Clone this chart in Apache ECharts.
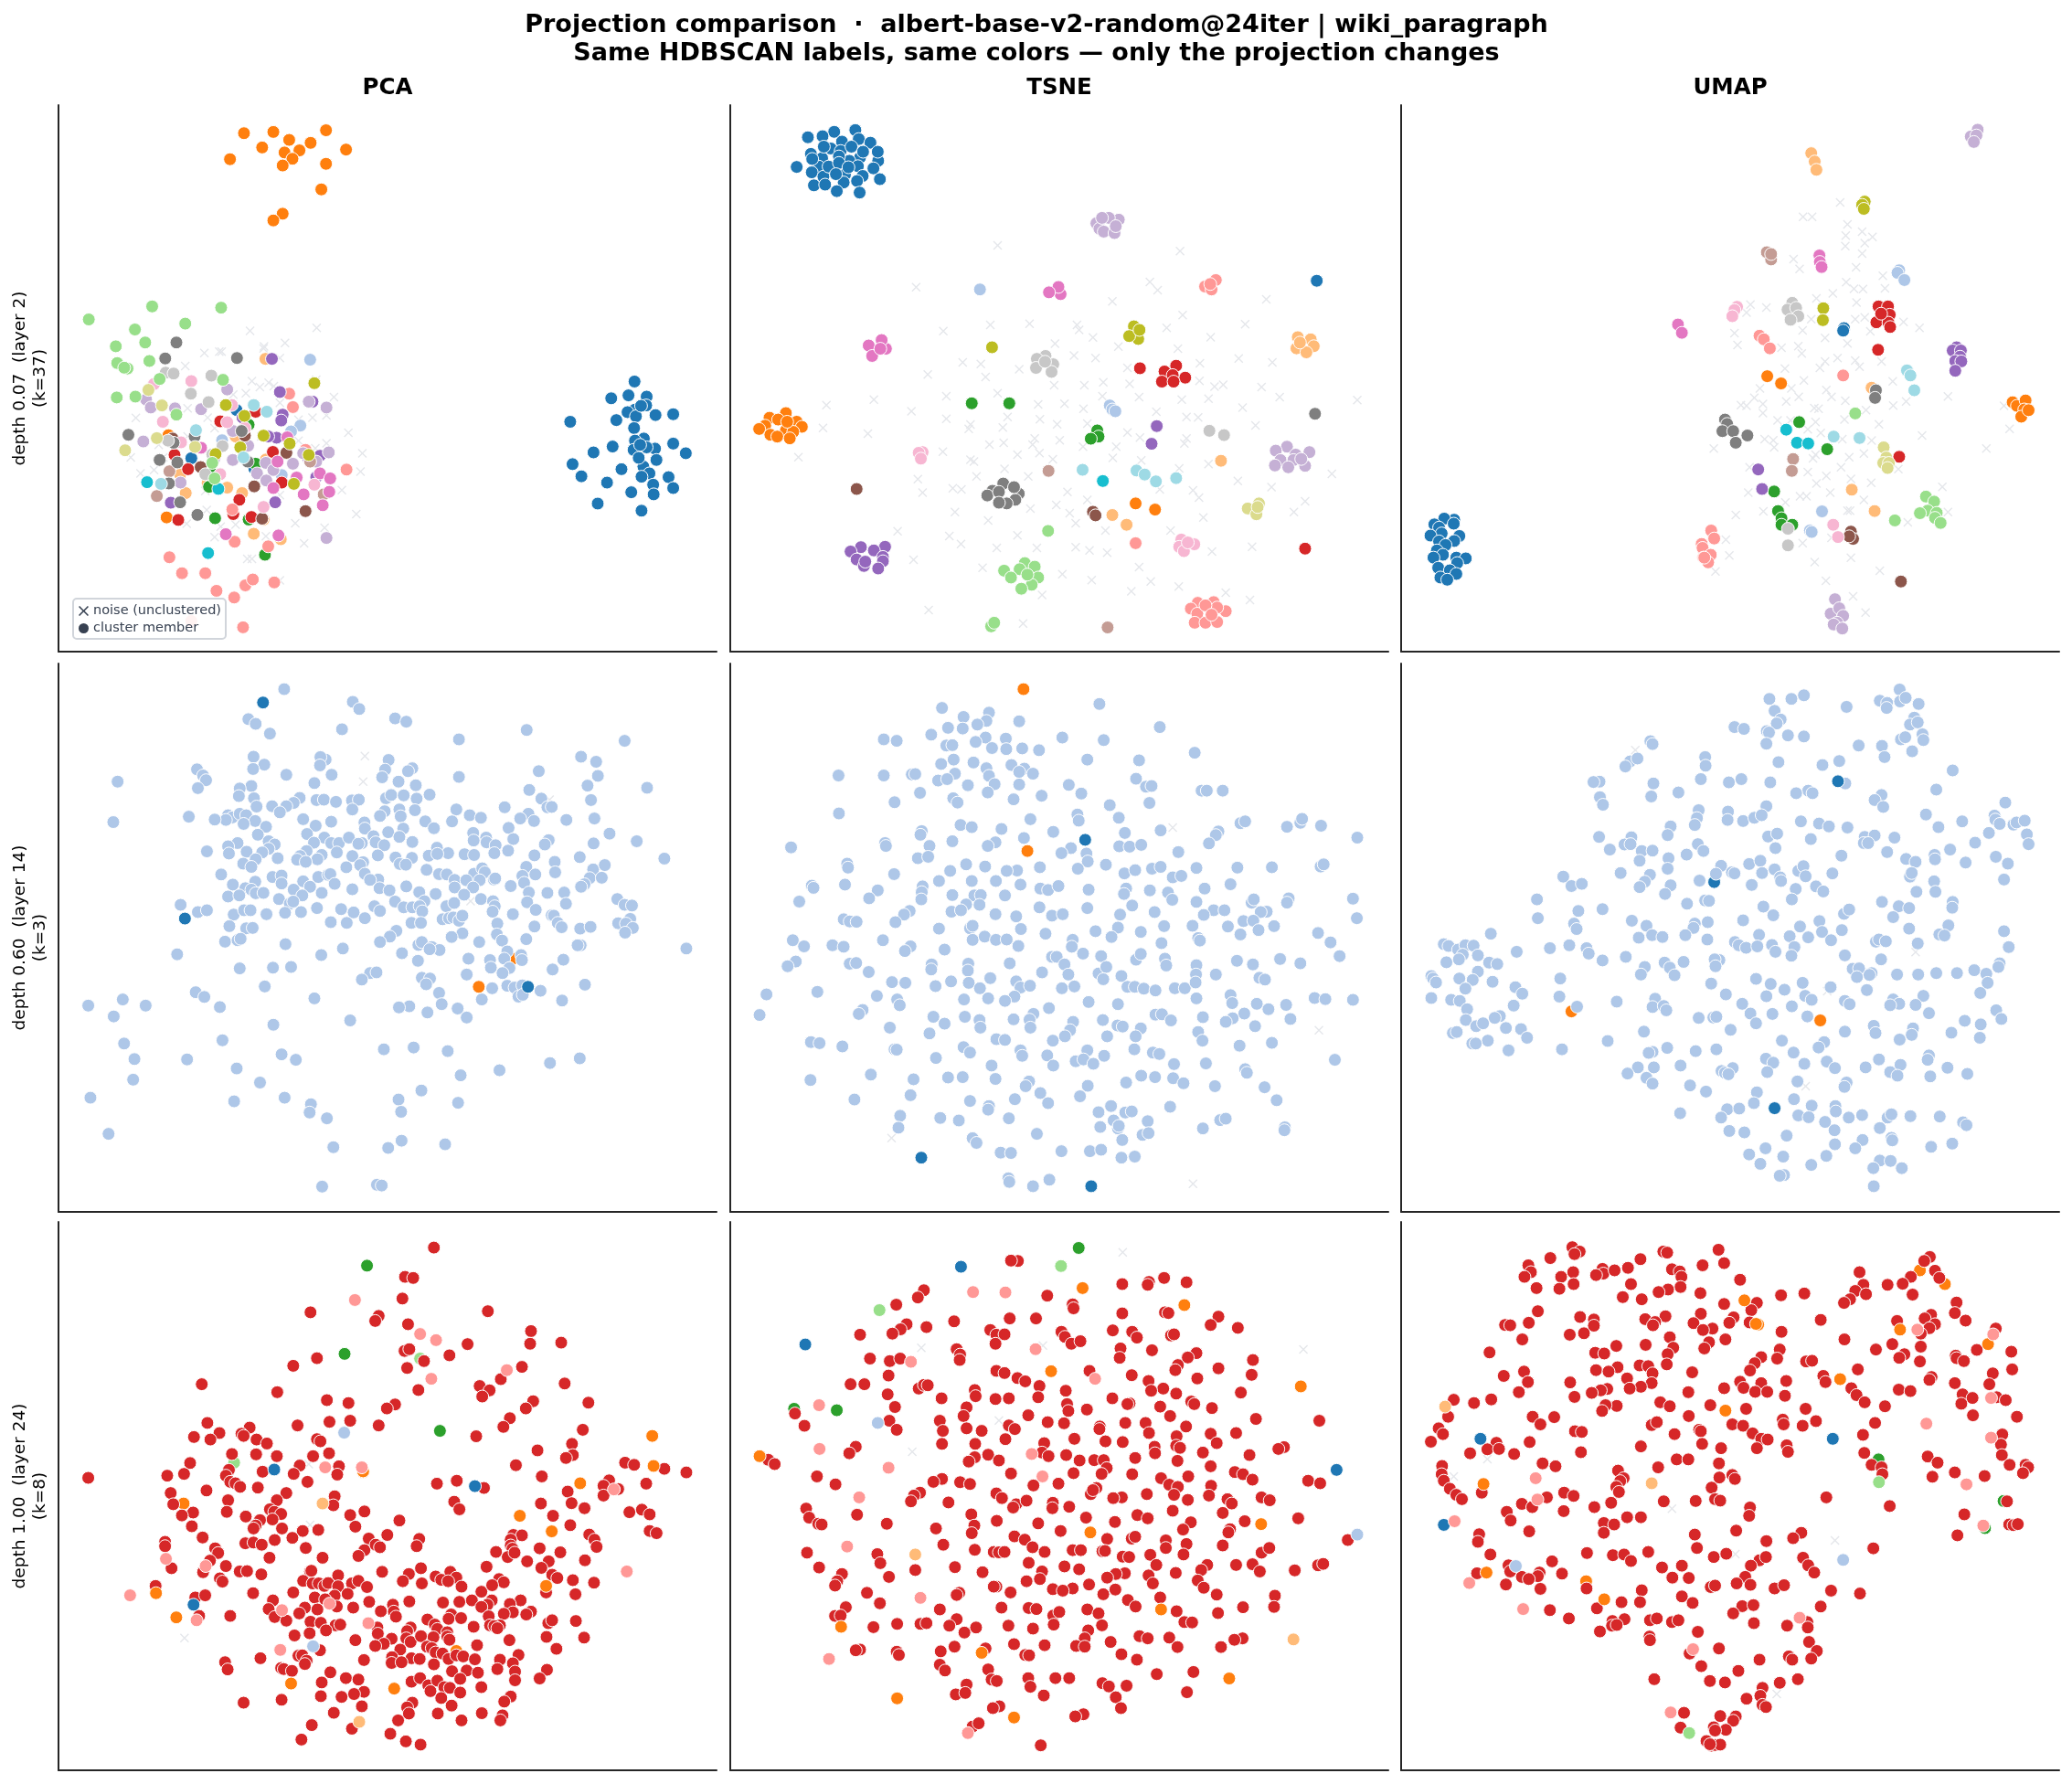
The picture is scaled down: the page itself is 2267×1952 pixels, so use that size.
<!DOCTYPE html>
<html>
<head>
<meta charset="utf-8">
<title>Projection comparison</title>
<script src="https://cdn.jsdelivr.net/npm/echarts@6/dist/echarts.min.js"></script>
<style>html,body{margin:0;padding:0;background:#fff}#chart{width:2267px;height:1952px}</style>
</head>
<body>
<div id="chart"></div>
<script>
// tab20, indexed by HDBSCAN label modulo 20
const palette = ['#1f77b4','#aec7e8','#ff7f0e','#ffbb78','#2ca02c','#98df8a','#d62728','#ff9896','#9467bd','#c5b0d5','#8c564b','#c49c94','#e377c2','#f7b6d2','#7f7f7f','#c7c7c7','#bcbd22','#dbdb8d','#17becf','#9edae5'];

const superTitle = 'Projection comparison  ·  albert-base-v2-random@24iter | wiki_paragraph\nSame HDBSCAN labels, same colors — only the projection changes';
const methods = ['PCA', 'TSNE', 'UMAP'];
const rowLabels = ['depth 0.07  (layer 2)\n(k=37)', 'depth 0.60  (layer 14)\n(k=3)', 'depth 1.00  (layer 24)\n(k=8)'];
const legendNames = ['noise (unclustered)', 'cluster member'];

// Each member group is [label, x, y, x, y, ...] in projection units; y grows downward.
const pca07Noise = [536,788,679,781,566,825,611,817,565,830,438,841,470,838,475,838,397,872,600,853,678,905,540,908,576,912,557,922,587,920,527,937,716,946,402,973,291,996,700,990,670,995,402,1040,747,1031,280,1090,777,1080,700,1056,676,1068,301,1128,773,1124,330,1120,733,1168,764,1225,633,1247,696,1258,652,1295,530,1332,540,1332,600,1383,570,1278,460,1280,400,1248,443,1215,473,1255,505,1250,440,1170,600,1180,350,1090,340,1060,460,1020,445,995,520,1080,560,1040,640,1050,640,1000,600,960,500,940];
const pca07Members = [
[0,1361,909,1311,949,1348,942,1387,945,1386,966,1362,976,1346,982,1364,992,1406,989,1444,987,1223,1005,1322,1001,1360,1020,1381,1045,1362,1050,1444,1057,1314,1064,1405,1069,1387,1066,1359,1072,1273,1078,1471,1080,1408,1096,1228,1106,1380,1112,1333,1118,1393,1128,1376,1136,1247,1135,1434,1137,1302,1150,1401,1155,1444,1163,1354,1173,1402,1178,1282,1200,1376,1217,1375,967,1373,1060,1370,1091],
[0,507,977,410,1092,545,1116],
[1,665,857,644,1014,624,1028,476,1049,604,1132],
[2,523,317,586,314,620,333,699,310,666,340,562,351,610,363,642,358,742,356,627,378,493,379,606,394,699,390,689,451,606,509,586,525,361,1037,357,1233],
[3,569,855,505,1040,570,1095,386,1131,445,1151,487,1162,519,1175,398,1175,602,1285,544,1272,565,1238],
[4,533,1012,455,1128,448,1160,461,1235,533,1238,568,1322,548,1105],
[6,472,1004,548,981,374,1084,403,1118,585,1077,500,1225,539,1232,513,1191,382,1239,604,1150],
[7,620,938,628,970,655,1072,743,1119,498,1214,363,1328,390,1366,440,1366,575,1302,503,1291,464,1408,502,1424,526,1395,542,1381,588,1388,521,1495,410,1480],
[8,583,855,600,934,670,957,606,988,603,1002,520,995,593,1043,575,1040,686,1086,660,1090,678,1137,366,1198,590,1197],
[9,313,952,323,971,375,973,431,975,487,928,307,1052,662,957,700,971,499,1027,532,1062,459,1093,499,1096,387,1150,650,1080,705,1078,678,1100,628,1105,570,1103,551,1128,586,1120,571,1145,700,1282],
[10,525,1038,370,1045,614,1079,430,1113,545,1159,655,1218,562,1236],
[11,665,1100,363,1123,336,1182,694,1178],
[12,431,1067,595,1100,616,1042,686,1128,636,1138,708,1140,586,1163,651,1178,706,1172,692,1204,484,1273,597,1276],
[13,330,915,410,908,349,1005,487,1006,497,965,388,1054,525,1020,472,1130,674,1155,565,1208],
[14,378,816,354,854,508,853,275,1036,342,1096,380,1102,362,1152,386,1197,423,1227,518,1027,417,1040,372,1055,531,1100],
[15,355,888,372,890,453,895,409,938,447,958,360,1050,477,1063,455,1083,440,1130],
[16,674,913,484,965,524,991,565,1038,621,1057,515,1066,662,1084,630,1153,462,1082],
[17,318,929,347,966,336,1044,268,1073,418,1065],
[18,315,1149,468,1165,446,1318],
[19,544,965,572,981,420,1025,345,1153,522,1090],
[5,326,730,474,733,190,761,397,771,289,785,311,816,248,825,320,860,251,865,273,878,266,876,342,903,478,905,250,947,290,945,378,988,455,1103,460,1140]
];

const tsne07Noise = [639,426,1062,442,450,542,992,527,1010,550,905,581,1262,575,1068,619,513,663,622,646,713,643,823,646,828,660,1031,654,1213,644,860,681,1133,680,772,698,919,706,1057,712,816,731,866,738,558,750,600,754,1108,752,1198,739,1276,750,477,783,689,769,611,790,940,765,770,813,840,813,884,805,945,809,1107,801,1142,817,1162,812,1251,818,639,835,520,843,352,853,242,868,882,843,967,846,1066,853,1128,850,1293,846,1473,854,794,864,733,866,838,878,439,885,1207,875,1007,886,520,906,737,907,662,901,1077,901,1104,902,234,931,576,922,572,934,651,930,777,921,847,919,338,947,940,944,1237,924,725,960,969,958,1077,960,1072,974,620,977,653,972,783,965,720,977,837,983,914,983,512,997,685,1005,736,1001,177,1012,576,1019,584,1024,767,1018,906,1014,655,1044,972,1021,1128,1031,1060,1043,454,1073,590,1065,710,1065,1414,1058,1196,1078,465,1110,535,1098,555,1101,801,1108,1015,1101,1092,1104,1274,1095,847,1130,1106,1124,775,1144,715,1154,1352,1134,540,1164,806,1167,1326,1164,617,1187,820,1195,1116,1179,407,1217,889,1215,1040,1215,527,1230,685,1228,554,1252,637,1263,730,1263,820,1261,852,1270,893,1276,1229,1260,1136,1273,444,1296,604,1318,967,1316,789,1336,857,1352,994,1356,1059,1370,949,1383,742,1393,1168,1387,1224,1407,479,1435,698,1472];
const tsne07Members = [
[0,309,107,260,112,199,127,233,124,278,139,317,132,344,142,252,158,206,173,275,165,232,185,320,183,295,192,362,192,173,209,224,208,271,180,315,207,351,213,208,224,235,236,285,230,326,234,366,243,213,260,239,258,282,252,313,248,266,276,319,280,236,153,300,153,327,167,361,167,209,187,247,208,271,198,293,210,264,229,1379,524],
[1,598,548,899,869,905,880,912,885],
[2,148,890,110,903,130,908,173,914,100,925,86,934,185,928,148,938,165,942,112,950,128,955,157,960,151,914,959,1140,1004,1157],
[3,1335,680,1365,686,1372,705,1332,711,1355,722,1340,695,1157,1022,905,1172,938,1199],
[4,579,863,666,863,870,938,873,955,855,961],
[5,702,1305,725,1315,654,1326,690,1322,733,1345,670,1345,718,1365,694,1376,708,1337,756,1216,624,1480,631,1470],
[6,969,766,1053,759,1026,775,1074,792,1045,785,1020,803,1047,803,1352,1265],
[7,1145,522,1120,540,1135,548,1132,533,1103,1415,1140,1413,1087,1431,1168,1438,1148,1428,1102,1445,1096,1470,1121,1470,1148,1468,1121,1422,1135,1448,959,1250],
[8,1008,926,996,975,322,1261,378,1260,298,1273,352,1270,312,1295,373,1288,373,1300,329,1313,362,1320,332,1301],
[9,920,355,897,350,868,365,875,380,885,388,910,392,881,350,913,373,1310,983,1284,994,1362,998,1330,1005,1295,1020,1325,1020,1282,1035,1313,1040,1352,1036,1343,1017],
[10,312,1100,860,1163,866,1173],
[11,757,1050,894,1483],
[12,785,561,780,541,758,556,380,712,340,703,370,688,348,732,367,712],
[13,465,998,456,1000,461,1016,1065,1240,1095,1253,1060,1260,1071,1272,1080,1248],
[14,1375,892,652,1085,627,1105,688,1113,615,1118,680,1130,660,1140,677,1095,642,1108,642,1138],
[15,750,732,730,740,768,755,728,765,764,776,749,748,1130,939,1164,951],
[16,955,650,965,685,944,677,968,660,626,708],
[17,1219,1154,1245,1140,1239,1170,1242,1150],
[18,883,1078],
[19,836,1047,961,1049,980,1060,1006,1079,1053,1070]
];

const umap07Noise = [1035,307,949,347,970,347,1052,368,1086,388,1048,399,1110,403,1047,428,1092,420,1086,449,927,464,941,491,1072,487,1134,510,1049,528,1067,546,1088,547,1139,545,1018,559,980,573,1073,584,827,590,864,598,818,612,1070,630,1092,625,968,630,1182,638,1219,654,948,661,790,669,1000,682,1105,664,1052,697,797,702,899,709,938,705,946,725,1029,738,1000,747,1070,745,907,767,988,765,1080,762,1131,747,951,800,1157,802,1285,844,849,822,922,822,1003,826,836,848,939,845,1015,845,1047,856,805,868,818,870,856,865,910,858,1188,858,1158,869,975,876,985,878,1095,882,856,890,890,910,920,910,978,915,1045,908,1125,921,960,935,990,945,1040,962,1225,952,1428,934,742,988,860,962,880,965,882,985,1108,966,1374,988,978,1005,972,1015,1056,1012,1090,1002,1037,1040,825,1040,960,1053,1170,1045,1003,1064,1060,1072,1107,1083,980,1085,1272,1094,822,1110,1012,1110,908,1137,942,1120,957,1120,1090,1130,1285,1164,857,1162,793,1172,1052,1160,1058,1160,1192,1192,770,1240,948,1250,1015,1235,778,1284,976,1302,1060,1290,1127,1326,746,1328,1002,1354,1065,1397,1094,1442,1415,870];
const umap07Members = [
[0,140,1185,117,1182,94,1198,139,1196,105,1207,111,1223,85,1229,152,1230,105,1245,140,1244,120,1255,100,1270,114,1282,92,1290,145,1290,167,1292,147,1305,103,1318,130,1325,145,1335,108,1345,124,1351,1044,655,1042,662],
[1,1172,495,1168,502,1184,522,993,1162,965,1215,969,1219],
[2,1435,860,1445,870,1465,855,1462,880,1455,900,1472,882,866,788,898,808],
[3,968,171,976,194,980,217,1108,820,1062,1102,1115,1161],
[4,940,915,1005,990,882,1107,891,1161,899,1181,899,1199,924,1199],
[5,1070,891,1234,1121,1253,1135,1238,1160,1220,1167,1259,1166,1255,1180,1268,1194,1162,1187],
[6,1124,595,1146,595,1150,618,1119,639,1147,640,1151,652,1130,615,1123,715,1172,1011],
[7,848,676,858,686,872,711,1042,786,736,1215,743,1237,714,1252,716,1263,735,1282,718,1290,729,1303,720,1290],
[8,1305,708,1296,717,1315,717,1313,734,1302,746,1316,747,1302,773,845,1046,854,1100],
[9,1354,106,1338,125,1351,122,1345,140,1023,1405,1013,1445,1033,1430,1042,1451,1028,1470,1020,1475,1040,1486],
[10,1176,1356,1060,1218,1065,1238,1056,1231],
[11,865,445,875,465,875,450,926,1017,923,1050],
[12,987,454,988,472,992,486,659,645,668,668],
[13,796,596,790,605,785,622,1019,1199,1030,1233],
[14,768,908,773,920,762,940,787,940,820,952,793,972,1118,827,1116,848],
[15,924,585,913,604,933,599,938,622,920,632,914,1210,914,1256],
[16,1092,305,1086,314,1090,325,996,600,995,633],
[17,1136,985,1142,1013,1135,1028,1148,1028,1145,1042],
[18,910,936,935,972,961,974],
[19,1190,772,1198,786,1207,827,1020,955,1080,959]
];

const pca60Noise = [740,271,736,342,985,673,1168,392];
const pca60Members = [
[2,1004,910,1083,832],
[1,553,86,712,121,727,141,470,169,487,182,810,167,836,176,687,197,520,209,1115,199,958,225,1342,229,482,273,649,281,637,274,795,282,636,297,507,295,481,307,351,308,787,309,850,305,840,313,1241,273,1276,287,1143,313,558,323,663,323,780,330,958,329,1280,326,365,325,372,338,167,342,623,346,818,342,477,354,450,361,353,360,858,352,1256,353,1394,359,1121,365,448,382,483,388,589,387,628,393,645,392,673,398,710,394,726,392,789,388,801,379,830,380,860,389,890,378,1149,389,1264,393,489,411,525,410,575,401,558,410,543,427,711,419,820,419,786,424,856,421,952,419,1064,413,1163,413,1173,412,423,435,433,441,418,448,450,431,392,447,332,439,465,435,775,437,823,438,983,435,1009,442,1119,431,1100,444,1272,444,942,452,880,452,1132,451,1207,448,157,454,597,446,486,451,459,459,662,453,626,464,511,467,739,455,740,472,829,472,900,471,1073,470,492,489,606,487,646,497,794,482,760,493,991,484,1307,486,820,495,1021,497,1084,501,445,512,423,521,517,507,531,516,622,511,662,512,680,512,703,497,733,512,725,514,765,510,785,518,850,509,992,505,1022,510,1043,518,1166,504,1157,516,1270,513,1370,507,517,528,374,535,425,541,466,536,502,538,605,534,640,545,675,538,590,548,907,525,933,540,1040,540,1072,533,971,543,993,545,888,547,908,542,1133,546,1238,551,1434,555,538,554,487,557,583,558,630,557,603,564,711,548,770,546,811,552,849,553,458,569,477,578,736,565,729,573,821,570,835,572,1180,564,697,579,883,586,1114,578,1269,585,1296,573,407,599,526,606,547,602,632,606,655,600,660,598,740,597,771,613,752,614,912,598,930,599,993,597,1012,582,1018,593,1105,603,1135,599,1181,593,434,627,486,619,597,618,547,624,613,633,670,625,836,632,948,614,975,615,1006,615,1039,613,1042,610,1078,631,1109,622,1261,609,1289,608,1249,626,1241,633,463,637,477,641,487,651,505,650,575,641,640,650,711,640,774,637,797,643,948,635,991,635,866,648,904,653,970,655,1163,650,1202,649,1120,649,423,660,449,657,595,657,541,667,566,680,574,674,878,673,1009,667,1037,673,1116,676,1206,680,810,674,1325,667,1342,683,1359,685,313,683,353,703,374,698,436,710,460,698,475,698,512,709,555,705,592,703,629,692,685,695,714,704,762,687,775,700,830,690,850,690,867,687,873,701,929,687,947,678,1041,687,1036,702,1136,697,1083,709,740,720,661,731,698,733,848,733,870,733,920,723,935,720,945,718,958,727,966,713,1173,712,1178,713,1187,733,1355,722,1047,735,1133,743,1196,745,1239,749,1263,744,1327,734,1345,735,1361,747,1343,760,426,742,465,748,480,747,813,755,798,771,966,762,941,772,1046,765,416,785,445,781,452,777,556,792,775,786,864,794,872,786,895,800,1005,786,1058,782,1114,778,1240,795,1233,795,689,804,1485,804,305,820,639,822,826,817,913,808,890,806,1070,812,1102,822,980,832,863,838,1030,836,1063,832,1104,836,1200,835,450,859,527,857,569,855,1032,857,1075,858,1059,872,1175,862,752,872,767,870,733,890,976,876,872,885,891,887,882,903,508,909,1035,914,1070,907,1087,912,1105,906,1147,921,1250,904,348,925,368,938,912,927,1096,937,1106,932,179,945,623,942,99,962,232,962,404,966,843,964,819,967,918,958,1011,945,1197,948,955,970,158,992,885,981,976,995,706,1003,528,1015,410,1058,182,1067,784,1083,853,1078,932,1088,206,1110,328,1111,547,1097,580,1112,1238,1108,1169,1121,443,1136,1052,1141,962,1155,203,1167,497,1175,871,1197,104,1217,437,1227,554,1217,818,1222,956,1231,615,1235,612,1258,824,1256,652,1274,146,1317,825,1336,794,1356,667,1354,926,1346,641,1463,768,1458,779,1460],
[0,504,123,323,721,1118,910]
];

const tsne60Noise = [1045,469,1384,1030,393,1329,1092,1455];
const tsne60Members = [
[2,699,86,708,534],
[1,510,138,619,151,875,127,560,163,689,175,613,174,592,184,1015,191,524,193,558,195,485,212,375,225,405,229,611,220,658,223,789,220,885,227,520,242,534,241,588,232,626,249,659,252,696,250,735,255,1096,262,537,281,847,281,967,283,508,293,583,289,671,296,613,305,701,306,689,315,721,320,270,325,375,325,440,322,448,321,540,320,619,326,501,339,522,335,570,352,632,349,689,350,960,334,983,356,996,354,804,351,1112,367,1124,367,1161,367,616,372,459,373,833,375,741,381,536,388,546,400,400,399,676,391,899,407,991,401,271,430,824,433,827,450,920,442,715,446,553,462,579,468,648,473,463,479,460,489,768,481,934,484,1017,477,1202,457,1213,452,1151,480,1145,490,1310,467,1341,456,1345,445,1389,464,1473,497,700,498,634,510,378,512,380,520,534,507,481,520,616,520,160,524,921,521,945,522,972,517,1129,513,809,526,787,540,845,541,1058,537,454,554,478,550,290,569,292,580,566,571,848,563,890,572,610,577,684,588,660,589,737,579,825,583,399,598,529,589,933,596,958,587,997,583,1017,578,1100,581,1195,580,1275,579,1388,577,1395,571,503,617,579,617,635,617,1045,607,1065,603,692,627,285,627,208,630,212,636,465,632,463,648,738,638,756,642,780,631,850,641,937,638,932,653,992,643,1034,649,1119,638,1179,626,361,643,341,665,179,674,462,668,534,656,585,657,600,656,656,657,1044,669,1100,675,1228,677,1233,668,1314,665,1310,677,1463,666,435,700,422,710,566,682,597,683,532,702,554,698,736,690,847,692,951,685,1140,698,1165,698,1263,702,1249,703,402,731,282,723,296,729,312,730,634,709,682,715,765,713,790,709,923,710,1003,703,1117,711,1472,720,1209,728,1232,727,503,749,575,748,581,741,693,750,918,746,866,756,1025,742,1091,741,1173,743,1280,742,1244,753,750,763,903,772,971,758,1202,765,1382,761,164,781,190,798,256,795,282,799,373,781,437,798,424,811,581,780,609,771,635,780,660,779,687,797,813,780,811,799,1019,789,1104,775,1108,782,1411,787,516,807,837,818,171,840,152,853,296,846,311,844,340,869,486,848,485,862,571,846,570,865,667,845,765,827,776,827,794,848,879,825,960,835,971,819,1027,832,1030,851,1194,838,1231,848,1294,833,1341,845,1432,825,1100,850,742,870,803,876,873,873,891,855,884,889,926,880,1099,876,1145,876,1246,885,1259,890,394,897,425,899,531,895,622,886,682,895,572,899,495,908,598,914,692,912,714,907,788,914,817,909,940,910,957,910,978,915,1005,920,1050,914,1073,914,1098,898,103,931,221,924,359,935,617,942,561,945,678,937,656,949,406,945,412,961,850,952,918,958,1100,942,1179,933,1183,955,1240,957,1308,960,1374,941,1399,944,1463,946,326,974,317,985,1267,972,722,985,758,969,1005,987,1020,986,1211,984,87,988,490,993,563,993,676,1000,713,1001,814,1007,883,1002,1041,1003,1115,994,1184,997,1168,1007,1318,999,516,1012,597,1002,599,1023,715,1023,807,1030,917,1017,929,1020,971,1025,1236,1019,389,1023,481,1039,1104,1035,795,1047,893,1047,959,1047,206,1063,226,1066,636,1055,656,1057,767,1059,1114,1059,279,1075,1200,1073,1275,1065,400,1083,405,1084,560,1077,575,1092,692,1086,696,1101,847,1086,956,1083,999,1092,1014,1096,496,1107,754,1100,820,1116,838,1111,861,1123,886,1101,625,1128,768,1128,1048,1124,1122,1122,1421,1112,205,1168,345,1153,444,1166,524,1161,558,1160,634,1165,972,1156,1004,1160,1046,1163,1070,1177,1213,1138,1217,1148,712,1172,704,1185,848,1184,937,1175,1143,1185,1258,1188,307,1222,437,1210,738,1204,756,1232,830,1213,575,1226,679,1221,1286,1224,619,1240,617,1250,873,1257,902,1240,935,1258,950,1255,1039,1242,413,1267,506,1273,549,1280,665,1274,908,1280,987,1282,1155,1279,1168,1275,409,1300,877,1298,918,1302,920,1295,1115,1302,1305,1299,1304,1307,730,1317,975,1320,989,1315,928,1334,581,1329,590,1342,646,1369,670,1370,787,1365,853,1365,879,1361,926,1383,957,1380,664,1440,666,1450,721,1462,759,1444],
[0,842,503,462,1383,856,1462]
];

const umap60Noise = [560,255,1210,814,1005,922,955,1185];
const umap60Members = [
[0,743,620],
[2,412,978,989,1003],
[1,1173,87,871,113,922,113,951,103,1127,118,1144,124,1143,138,1174,120,1187,110,1217,127,1050,135,883,146,897,170,888,181,1207,165,1197,184,1215,178,790,191,812,196,865,202,870,206,914,214,951,217,1226,211,1228,227,1176,225,1186,219,595,230,600,238,864,237,1078,242,1132,243,722,274,1138,274,1202,258,892,288,548,286,565,278,537,300,723,298,994,296,1033,285,1296,311,477,342,463,343,602,347,712,335,777,344,806,335,873,344,1047,347,961,367,971,374,933,374,1258,364,597,383,660,372,478,385,485,406,1131,379,1115,393,1135,412,1418,400,707,421,775,425,864,410,1234,433,703,443,774,448,810,451,836,442,853,435,698,462,1393,436,1395,447,1405,459,1437,461,1444,455,1463,450,944,452,986,458,1009,466,1052,469,1263,468,1318,452,642,466,635,490,476,495,551,496,1092,495,1115,491,1161,497,1380,484,1468,488,868,494,889,486,967,501,535,516,549,515,1090,512,1100,512,501,530,575,534,600,533,705,515,718,534,885,526,1472,515,1348,511,1290,530,1144,537,1038,547,637,554,570,561,679,544,1188,556,1210,564,1254,545,1255,557,1326,566,1396,550,1424,569,759,575,635,583,824,570,850,561,883,585,938,589,950,576,526,595,594,600,747,597,784,593,790,596,854,595,955,604,1017,596,1197,605,1201,595,1253,618,1415,613,582,619,570,634,709,616,642,629,830,628,896,607,898,617,979,632,996,646,932,639,1212,647,1256,647,629,653,923,668,393,605,412,631,436,625,332,668,680,680,722,671,731,672,1132,675,1171,687,1195,692,1296,675,1295,691,428,700,484,695,857,688,334,720,552,727,880,712,810,726,1044,708,1056,696,1158,717,418,735,586,741,698,735,695,747,728,731,942,743,987,728,993,758,424,750,568,774,599,767,623,772,676,767,727,779,847,766,918,770,961,773,1014,781,1039,753,1195,749,1286,740,1265,765,1277,768,1415,756,225,763,116,792,127,797,149,807,166,795,185,796,285,813,362,803,407,795,791,786,800,795,817,802,843,798,877,794,929,800,885,813,1118,785,1125,779,1141,784,1215,790,1426,800,447,803,452,818,160,821,195,823,122,842,151,834,221,843,240,847,484,837,538,827,1046,823,922,824,1130,834,755,836,744,834,746,853,628,843,672,841,640,857,582,855,1405,845,1402,855,1064,860,1079,859,1108,872,1103,877,1346,864,195,868,573,876,651,878,1074,883,1167,876,1216,876,1258,872,1306,872,1374,874,87,880,91,887,98,898,152,887,183,891,386,887,840,888,229,896,736,901,948,899,1377,899,282,911,166,915,874,902,906,918,1013,911,1097,919,298,929,770,931,864,936,954,935,969,946,1228,935,1360,927,133,946,87,941,153,949,384,937,1046,949,1057,958,278,962,606,943,517,951,808,957,1158,945,1172,957,1151,961,1210,960,170,972,600,966,626,963,632,975,425,965,923,964,1241,983,1397,975,246,991,234,996,167,1002,707,996,741,995,748,993,878,985,827,984,959,992,1409,999,191,1019,207,1011,840,1011,1324,1004,1361,1014,260,1024,295,1027,781,1029,580,1034,1046,1034,1113,1018,1117,1038,1204,1025,1201,1043,1293,1037,137,1038,146,1035,309,1051,1173,1056,1359,1051,218,1059,182,1067,190,1067,496,1060,900,1059,998,1063,985,1078,266,1086,390,1083,634,1079,748,1083,600,1090,591,1093,700,1088,927,1092,863,1109,880,1120,952,1123,1004,1117,1023,1135,1125,1111,1241,1100,1238,1112,665,1128,603,1133,566,1133,786,1135,760,1143,768,1148,776,1152,1094,1133,1175,1126,1284,1134,542,1150,586,1162,600,1178,866,1146,1151,1146,1168,1156,1244,1158,1330,1151,936,1172,1050,1175,1045,1187,687,1183,724,1200,842,1202,928,1221,835,1232,664,1260,773,1249,801,1247,969,1239,1024,1240,1025,1255,759,1272,938,1266,962,1271,1055,1272,1086,1265,1000,1284,1145,1272,1154,1263,1198,1268,1266,1269,1320,1285,1328,1293,778,1309,813,1313,911,1322,1022,1307,1127,1301,1154,1328,1156,1335,1087,1334,1023,1346,862,1357,1070,1357,1246,1353,1295,1344,824,1374,903,1380,1003,1378,850,1400,968,1403,1127,1391,1152,1392,1112,1412,1178,1412,905,1431,895,1433,1113,1462],
[0,1030,341,883,1246]
];

const pca100Noise = [322,1169,613,856,610,688];
const pca100Members = [
[5,437,684,868,396],
[2,320,797,736,710,952,1205],
[6,900,89,833,170,852,173,827,230,1025,265,614,268,772,278,764,292,840,301,1125,320,1123,355,1195,352,978,356,936,387,832,375,843,370,877,403,838,422,574,416,629,395,1104,419,1055,453,362,467,1006,472,1029,484,1012,501,864,483,1203,465,537,489,652,511,702,519,810,523,791,534,1130,514,1113,534,1258,518,375,574,473,587,584,581,658,571,706,568,772,581,1076,561,1061,585,1245,593,403,602,344,613,382,620,454,604,459,610,489,620,513,631,629,619,637,625,998,611,1220,632,1140,650,432,660,488,661,536,666,620,666,657,658,1222,663,1206,671,335,685,589,692,680,694,1090,691,1343,684,1364,690,1434,701,1485,711,99,726,282,720,321,715,425,704,418,720,503,709,575,715,676,717,1150,722,1306,733,428,737,440,741,451,751,492,753,607,737,907,742,953,734,1016,754,1293,748,1327,757,1392,742,1210,764,290,768,373,761,558,768,670,777,1293,775,296,799,423,788,536,788,667,802,947,792,1148,797,1219,796,420,820,342,822,520,813,530,820,546,826,706,829,739,819,959,813,1249,810,1353,821,1382,814,1400,827,316,830,464,833,526,841,497,843,820,844,1176,831,339,860,487,858,482,866,548,866,596,873,632,870,718,861,1216,857,277,903,364,891,1084,884,1104,885,1078,897,792,884,749,894,866,895,531,898,572,892,1260,883,1400,873,1416,879,1272,897,1277,917,277,915,463,907,482,905,501,911,603,920,739,926,725,942,765,911,775,918,860,915,1078,913,1082,922,1145,921,393,921,400,934,642,947,519,947,1044,931,1071,945,1087,933,1193,932,381,955,418,970,1116,957,1166,957,1250,954,292,976,450,985,467,984,365,987,500,993,613,985,616,983,780,986,870,976,1022,972,1149,975,938,986,842,992,678,996,904,999,917,1008,952,1002,1174,994,1186,1003,404,1004,410,1013,597,1011,619,1018,633,1018,646,1025,655,1017,678,1026,710,1018,725,1011,745,1028,828,1012,872,1018,933,1012,1051,1006,1062,1015,964,1027,1222,1009,1271,1016,255,1025,1010,1041,1035,1023,574,1043,700,1047,670,1052,1228,1048,1160,1043,481,1045,347,1057,370,1051,624,1057,648,1062,527,1065,750,1069,843,1068,921,1071,959,1069,988,1065,1034,1065,1024,1077,1010,1083,1101,1065,1076,1075,675,1082,601,1085,630,1090,517,1089,713,1085,805,1077,807,1096,812,1110,777,1095,588,1101,1125,1096,1083,1098,1062,1102,1114,1104,940,1104,934,1116,963,1114,1027,1109,531,1111,558,1121,428,1108,356,1108,885,1118,614,1124,638,1127,672,1134,683,1132,650,1148,1030,1134,1053,1134,1040,1136,1047,1142,992,1138,1165,1128,1174,1120,1229,1122,769,1140,770,1157,846,1140,838,1150,902,1132,908,1144,931,1153,899,1167,577,1162,612,1156,1161,1166,1248,1168,1075,1175,718,1175,802,1171,836,1170,846,1180,870,1164,931,1165,936,1174,784,1185,764,1191,1000,1189,884,1193,1184,1199,636,1203,822,1201,895,1197,904,1209,498,1225,586,1218,595,1217,605,1232,738,1230,803,1222,848,1225,867,1227,920,1212,934,1227,952,1217,968,1220,995,1228,1096,1216,1053,1229,1083,1239,601,1241,802,1238,825,1236,900,1242,416,1236,422,1256,546,1252,552,1255,571,1260,1047,1255,1088,1262,1162,1257,660,1264,942,1261,976,1259,1002,1265,696,1280,725,1284,640,1292,1145,1281,1088,1286,848,1290,868,1280,887,1300,908,1287,961,1282,1010,1305,924,1305,937,1307,892,1316,738,1318,715,1324,638,1330,686,1332,961,1320,917,1335,459,1348,547,1340,1078,1331,1063,1345,733,1358,850,1348,941,1356,668,1376,838,1361,842,1378,909,1378,1011,1377,1059,1383,1054,1397,964,1397,817,1397,617,1410,710,1420,799,1434,593,1450,835,1455,869,1464],
[0,530,703,343,1077,995,749],
[1,692,601,620,1192],
[2,736,708,1406,610,1409,693,1239,741,1099,831,1173,874,1160,1025,256,1045,303,1112,569,1295,808,1309],
[3,642,797,727,1401],
[7,717,234,868,328,905,345,894,452,1069,428,648,697,733,697,1317,758,279,950,371,970,196,1051,658,1074,548,1092,350,1120,748,1128,544,1202,1347,985],
[4,745,139,693,383,914,596]
];

const tsne100Noise = [929,102,462,366,744,360,1348,371,642,567,441,654];
const tsne100Members = [
[4,167,535],
[6,686,126,670,125,468,207,454,227,404,247,754,222,928,190,990,184,987,192,1025,173,1077,185,813,246,815,257,928,271,1027,268,1035,270,1151,280,1133,303,1196,311,428,301,414,315,395,327,474,309,538,293,320,330,667,285,728,285,622,317,636,330,655,329,787,322,795,336,810,355,831,348,906,318,951,322,962,338,1041,332,1048,329,634,355,924,368,997,373,1100,381,1080,393,544,370,552,385,551,400,343,396,389,403,413,396,922,394,1231,400,1057,414,1051,428,636,430,655,436,852,430,950,442,1151,423,1228,441,386,443,685,450,703,459,1102,451,989,458,298,467,330,467,456,479,468,469,477,470,736,472,1023,479,995,485,586,483,797,485,588,500,384,495,1203,490,1053,493,509,506,634,508,665,506,733,503,905,506,945,520,940,522,401,530,567,531,800,522,803,541,846,537,1088,515,1095,522,1016,529,1136,533,169,548,560,555,710,553,1039,555,1238,563,505,568,388,568,755,572,793,575,665,581,935,574,982,574,876,584,875,591,1076,584,1385,568,191,582,567,589,602,596,512,596,679,591,405,593,990,602,1133,604,1192,602,1054,611,817,618,657,619,510,632,587,632,747,630,889,625,929,627,1147,630,1303,641,1290,646,1003,640,1053,637,1062,643,310,640,295,658,742,656,757,666,586,669,617,662,1004,658,1115,656,1223,663,107,676,122,688,572,681,642,678,798,663,829,678,863,677,885,677,892,699,958,671,1056,679,1133,694,220,722,670,714,815,713,880,715,951,716,1018,727,1081,722,1189,710,1208,716,1230,731,263,744,510,729,490,737,552,738,575,743,722,747,780,742,1037,745,1057,751,1134,748,1359,734,1387,741,459,767,445,775,438,791,636,769,649,782,855,771,868,754,860,760,985,771,927,780,907,782,1048,773,1129,775,525,794,682,799,706,789,767,795,766,810,675,808,805,806,1080,787,1172,785,1182,797,1251,780,1270,788,195,811,202,836,223,853,231,855,313,828,578,827,637,845,844,836,963,829,987,838,1045,817,1161,823,382,853,585,858,733,852,911,848,1087,849,1212,846,1336,838,496,866,579,879,785,873,1069,869,1178,868,1174,877,678,888,702,897,893,895,950,894,958,889,1029,899,1451,898,513,911,720,918,586,925,1029,920,1077,909,1161,913,197,933,360,937,630,931,642,932,655,931,748,931,813,926,832,926,882,929,888,928,1070,938,929,944,944,945,993,939,1251,933,1269,920,367,962,711,961,1125,967,1007,967,1192,967,1230,965,1382,968,1394,964,225,974,540,973,448,981,604,987,794,971,828,979,742,985,1111,981,1247,985,1328,982,278,992,267,1012,262,1024,387,1000,934,990,913,992,893,1002,989,996,1052,989,737,1006,706,1012,999,1018,1103,1010,851,1021,912,1035,636,1027,630,1027,767,1034,813,1032,790,1038,1117,1030,336,1044,550,1044,544,1050,669,1043,884,1048,1147,1049,1282,1052,1016,1057,941,1064,366,1073,287,1084,648,1085,711,1086,729,1089,959,1082,1208,1084,1280,1083,505,1090,847,1090,1054,1095,262,1108,275,1107,768,1107,782,1097,873,1101,1150,1100,544,1117,406,1130,460,1130,474,1128,527,1135,589,1140,664,1135,721,1143,769,1132,881,1134,1072,1125,1090,1126,351,1139,562,1154,849,1148,841,1170,968,1164,987,1170,1037,1168,1207,1170,1188,1174,539,1193,611,1198,677,1186,748,1189,821,1191,841,1193,901,1180,1056,1194,1157,1194,320,1201,310,1203,507,1206,405,1207,410,1216,703,1216,712,1217,926,1214,962,1229,505,1243,517,1259,617,1256,625,1284,637,1288,1008,1269,1093,1263,710,1280,773,1280,805,1280,882,1294,897,1303,938,1301,567,1298,715,1304,1078,1319,542,1325,564,1321,746,1328,913,1333,643,1358,628,1363,925,1363,838,1380,819,1386,581,1414,595,1405,739,1466],
[0,554,142,193,357,1425,704],
[1,361,574,1473,883],
[2,836,201,1072,248,763,431,1342,473,1250,854,854,877,1018,1090,276,1138,602,1210,1176,1281,406,1336,677,1389,87,666],
[3,448,938,1325,1173],
[5,786,140,365,262],
[7,582,212,657,213,727,370,438,405,865,452,225,525,226,646,718,660,386,698,743,722,318,780,290,916,460,1058,248,1227,570,1432],
[4,827,90,266,539]
];

const umap100Noise = [217,674,139,722,645,811,1023,899,792,937,888,1324];
const umap100Members = [
[4,1124,675,1414,790,1371,865],
[2,845,302,446,1012,1220,152,1278,190],
[6,414,88,431,100,419,107,753,95,625,100,634,103,363,118,572,121,312,138,766,132,716,138,1243,115,1230,126,1080,157,318,157,303,170,388,170,416,157,645,149,663,155,667,170,484,148,486,161,469,165,512,152,543,145,1255,153,1199,170,1265,173,1145,192,1180,189,1089,192,550,190,417,190,331,201,384,203,803,178,665,198,636,205,614,212,711,215,1070,209,1095,218,1058,232,1044,242,531,226,575,232,898,221,952,216,1203,219,842,242,766,245,1305,241,829,262,334,265,712,272,432,281,464,288,1301,270,583,287,630,279,606,295,695,298,788,282,778,297,825,296,990,289,1246,275,1231,285,1255,301,1326,291,258,303,270,304,313,297,464,305,601,304,739,313,717,317,1167,292,1242,312,1222,327,899,322,408,330,441,326,640,337,298,343,769,343,731,351,1045,343,1396,313,1156,356,1222,363,648,366,720,368,584,358,516,361,895,371,1118,371,1352,372,1432,377,222,379,467,380,488,382,635,384,852,392,889,396,956,404,970,402,1184,384,1172,394,1303,388,1305,395,1322,403,1220,404,837,409,633,412,570,415,590,417,519,420,469,428,498,432,302,432,826,429,1076,426,1434,426,600,437,692,434,996,444,1001,461,1247,447,1242,455,1389,437,255,444,311,461,409,462,541,451,598,464,803,460,852,464,910,458,1301,464,1381,467,1061,478,811,477,838,488,866,488,573,474,547,479,495,480,480,484,459,491,290,489,766,478,683,489,1171,482,1198,486,1073,497,907,499,419,502,226,509,186,519,139,510,1319,495,1342,505,1398,503,1419,511,618,517,640,528,517,527,491,525,483,541,734,525,817,535,955,535,1092,517,1139,528,1316,521,126,557,322,557,372,558,684,555,1343,553,1445,557,340,578,598,580,610,572,785,578,810,582,902,565,904,578,948,582,979,569,1116,574,104,589,114,605,420,597,436,599,651,605,708,593,712,597,832,603,1088,607,86,626,238,629,315,627,852,618,867,620,1411,606,715,632,1408,634,217,647,244,646,177,658,279,660,434,655,573,639,759,644,842,644,911,636,914,654,1091,657,1410,663,656,675,683,675,1238,667,1261,684,345,686,375,694,754,686,1108,690,1131,697,1133,716,1428,690,1465,690,1471,697,1459,713,112,693,111,716,613,697,520,706,533,727,525,735,785,718,791,729,755,725,1301,711,1249,723,1370,721,116,734,516,751,737,753,130,756,522,765,145,773,158,785,204,767,395,767,417,776,355,780,504,795,626,791,700,790,745,785,757,789,1003,780,1150,804,262,820,297,798,321,807,394,818,465,807,826,808,824,831,1422,791,271,844,541,835,573,835,1323,827,487,851,511,855,1427,855,1437,857,1447,854,314,874,487,878,794,872,698,883,1307,885,198,882,195,903,864,901,945,878,926,893,703,920,1112,921,224,938,448,934,508,940,534,938,550,956,590,931,742,945,771,936,848,954,863,945,949,947,367,957,266,968,270,985,622,974,668,969,828,969,961,968,975,988,193,990,338,988,334,998,390,991,646,1002,684,1003,815,1000,297,1000,313,1006,260,1021,340,1033,447,1032,575,1037,735,1028,745,1024,795,1018,827,1022,883,1032,905,1023,1014,1038,1081,1046,668,1054,571,1070,528,1070,693,1072,808,1081,834,1078,990,1082,471,1087,362,1092,406,1115,787,1101,835,1128,959,1125,594,1120,610,1115,645,1125,660,1120,535,1117,507,1122,506,1135,517,1133,912,1135,960,1140,478,1151,705,1152,593,1165,594,1175,963,1180,981,1205,754,1198,686,1212,916,1220,924,1229,968,1226,848,1229,713,1247,799,1260,604,1283,733,1288,768,1292,895,1293,937,1283,855,1307,850,1329,818,1337,855,1354,863,1360,673,1376,757,1385,793,1386,787,1398,665,1417,742,1416,770,1423,745,1425,725,1454,737,1467,745,1465,757,1464,733,1463],
[0,201,618,1018,618,116,856],
[1,283,970,1042,953],
[2,813,235,840,300,1174,316,1378,356,1035,453,769,540,208,743,215,988,488,1062],
[3,119,529,598,741],
[7,1214,316,1390,329,1385,505,1235,576,1385,615,329,727,1328,744,333,786,141,846,1367,858,175,1017,300,1089,941,1113,694,1200,642,1375],
[5,1125,738,685,1432]
];

// Grid boxes in page pixels and axis ranges for each panel, row by row.
const panelBoxes = [[64,115],[799,115],[1533,115],[64,726],[799,726],[1533,726],[64,1337],[799,1337],[1533,1337]];
const panelHeights = [598, 600, 600];
const panelRanges = [
  [125,1537,250,1553],[19,1545,38,1550],[17,1543,38,1550],
  [30,1555,15,1533],[19,1545,15,1533],[17,1543,15,1533],
  [30,1555,18,1535],[19,1545,18,1535],[17,1543,18,1535]
];
const panelNoise = [pca07Noise, tsne07Noise, umap07Noise, pca60Noise, tsne60Noise, umap60Noise, pca100Noise, tsne100Noise, umap100Noise];
const panelMembers = [pca07Members, tsne07Members, umap07Members, pca60Members, tsne60Members, umap60Members, pca100Members, tsne100Members, umap100Members];

const crossPath = 'path://M1 0 L5 4 L9 0 L10 1 L6 5 L10 9 L9 10 L5 6 L1 10 L0 9 L4 5 L0 1 Z';
const titleFont = '"DejaVu Sans"';

const grids = [], xAxes = [], yAxes = [], series = [];
panelBoxes.forEach(([left, top], i) => {
  const row = Math.floor(i / 3), col = i % 3, r = panelRanges[i];
  grids.push({ left, top, width: 720, height: panelHeights[row] });
  const line = { show: true, onZero: false, lineStyle: { color: '#262626', width: 2 } };
  xAxes.push({ gridIndex: i, type: 'value', min: r[0], max: r[1], position: 'bottom',
    axisLine: line, axisTick: { show: false }, axisLabel: { show: false }, splitLine: { show: false } });
  yAxes.push({ gridIndex: i, type: 'value', min: r[2], max: r[3], inverse: true, position: 'left',
    axisLine: line, axisTick: { show: false }, axisLabel: { show: false }, splitLine: { show: false },
    name: col === 0 ? rowLabels[row] : '', nameLocation: 'middle', nameGap: 9, nameRotate: 90,
    nameTextStyle: { fontFamily: titleFont, fontSize: 18.5, color: '#000', lineHeight: 22 } });

  const noise = [];
  for (let k = 0; k < panelNoise[i].length; k += 2) noise.push([panelNoise[i][k], panelNoise[i][k + 1]]);
  series.push({ type: 'scatter', xAxisIndex: i, yAxisIndex: i, silent: true, z: 2, symbol: crossPath, symbolSize: 10,
    itemStyle: { color: '#e5e7eb', opacity: 1 }, data: noise, animation: false });

  const members = [];
  panelMembers[i].forEach(group => {
    for (let k = 1; k < group.length; k += 2) members.push([group[k], group[k + 1], group[0]]);
  });
  series.push({ type: 'scatter', xAxisIndex: i, yAxisIndex: i, silent: true, z: 3, symbol: 'circle', symbolSize: 14,
    itemStyle: { borderColor: '#fff', borderWidth: 1, opacity: 1, color: p => palette[p.value[2]] },
    data: members, animation: false });
});

// Empty series that only feed the legend in the first panel.
series.push({ type: 'scatter', name: legendNames[0], xAxisIndex: 0, yAxisIndex: 0, symbol: crossPath, itemStyle: { color: '#374151', opacity: 1 }, data: [] });
series.push({ type: 'scatter', name: legendNames[1], xAxisIndex: 0, yAxisIndex: 0, symbol: 'circle', itemStyle: { color: '#374151', opacity: 1 }, data: [] });

const colCenters = [424, 1159, 1893];
const titles = [{
  text: superTitle, left: 1134, top: 12, padding: 0, textAlign: 'center',
  textStyle: { fontFamily: titleFont, fontWeight: 'bold', fontSize: 27, lineHeight: 31, color: '#000' }
}].concat(methods.map((m, i) => ({
  text: m, left: colCenters[i], top: 84, padding: 0, textAlign: 'center',
  textStyle: { fontFamily: titleFont, fontWeight: 'bold', fontSize: 24.5, color: '#000' }
})));

echarts.init(document.getElementById('chart'), null, { renderer: 'canvas' }).setOption({
  backgroundColor: '#fff',
  animation: false,
  title: titles,
  grid: grids,
  xAxis: xAxes,
  yAxis: yAxes,
  series,
  legend: {
    left: 80, top: 655, orient: 'vertical', itemWidth: 11, itemHeight: 11, itemGap: 4, padding: [6, 5, 4, 6],
    backgroundColor: 'rgba(255,255,255,0.88)', borderColor: '#d1d5db', borderWidth: 2, borderRadius: 4,
    selectedMode: false, textStyle: { fontFamily: titleFont, fontSize: 14.5, color: '#374151' },
    data: legendNames
  }
});
</script>
</body>
</html>
